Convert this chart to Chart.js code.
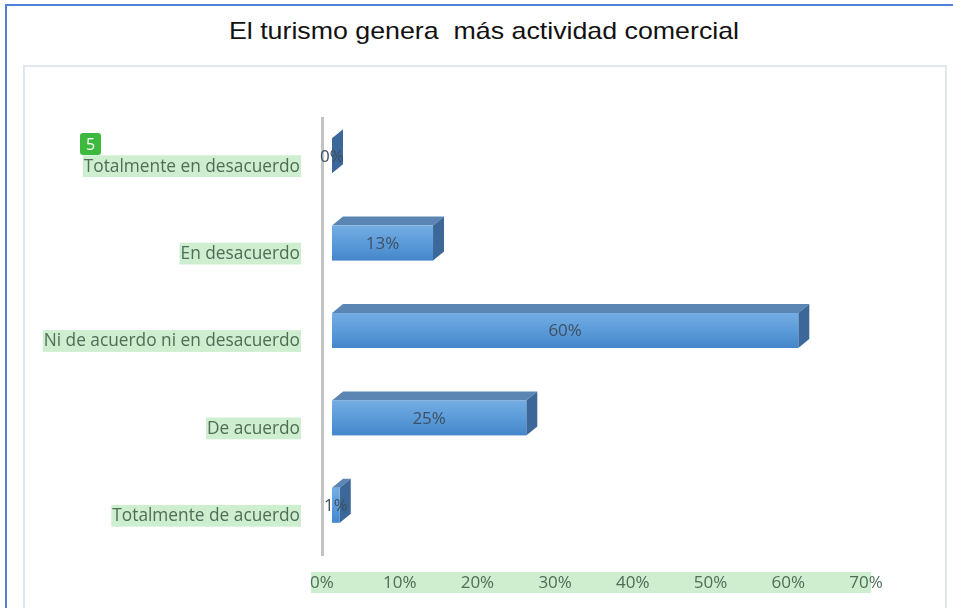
<!DOCTYPE html>
<html>
<head>
<meta charset="utf-8">
<script src="https://cdn.jsdelivr.net/npm/chart.js@4.4.0/dist/chart.umd.min.js"></script>
<style>
    html, body { margin: 0; padding: 0; background: #fff; }
    #wrap { position: relative; width: 953px; height: 608px; overflow: hidden; }
    .marco { position: absolute; left: 5px; top: 4px; width: 980px; height: 640px; border: 2px solid #4f82d8; box-sizing: border-box; }
    .area { position: absolute; left: 23px; top: 65px; width: 924px; height: 620px; border: 2px solid #e1e7ef; box-sizing: border-box; }
    .titulo { position: absolute; left: 0; top: 17px; width: 968px; text-align: center; font: 24px 'Liberation Sans', Arial, sans-serif; color: #111; white-space: pre; transform: scaleX(1.115); transform-origin: 484px 0; }
    .badge { position: absolute; left: 80px; top: 133px; width: 21px; height: 22px; background: #3dba3d; border-radius: 3px; color: #fff; font: 16px 'Open Sans', sans-serif; text-align: center; line-height: 22px; }
    canvas { position: absolute; left: 0; top: 0; }
</style>
</head>
<body>
<div id="wrap">
    <div class="marco"></div>
    <div class="area"></div>
    <div class="titulo">El turismo genera  más actividad comercial</div>
    <canvas id="grafico" width="953" height="608"></canvas>
    <div class="badge">5</div>
</div>
<script>
// datos
const categorias = ['Totalmente en desacuerdo', 'En desacuerdo', 'Ni de acuerdo ni en desacuerdo', 'De acuerdo', 'Totalmente de acuerdo'];
const porcentajes = [0, 13, 60, 25, 1];
const etiquetasDatos = ['0%', '13%', '60%', '25%', '1%'];
const ejeMin = 0;
const ejeMax = 70;
const ejePaso = 10;

// desplazamientos del efecto 3D
const DX = 10, DY = -6;      // cara frontal respecto a la barra de Chart.js
const PX = 11, PY = 9;       // profundidad

const resaltado = '#cdeecf';
const colorTexto = '#4d6e57';

// franja verde detras de las etiquetas del eje X
const franjaX = {
    id: 'franjaX',
    beforeDraw(chart) {
        const ctx = chart.ctx;
        const x = chart.scales.x;
        const x0 = x.getPixelForValue(ejeMin) - 11;
        const x1 = x.getPixelForValue(ejeMax) + 5;
        ctx.save();
        ctx.fillStyle = resaltado;
        ctx.fillRect(x0, 572, x1 - x0, 21);
        ctx.restore();
    }
};

// barras con caras superior y lateral
const barras3D = {
    id: 'barras3D',
    afterDatasetsDraw(chart) {
        const ctx = chart.ctx;
        const meta = chart.getDatasetMeta(0);
        ctx.save();
        meta.data.forEach((bar, i) => {
            const p = bar.getProps(['x', 'y', 'base', 'height'], true);
            const x0 = p.base + DX, x1 = p.x + DX;
            const top = p.y - p.height / 2 + DY, bot = p.y + p.height / 2 + DY;

            // cara superior
            if (x1 > x0) {
                ctx.fillStyle = '#5b86b3';
                ctx.beginPath();
                ctx.moveTo(x0, top);
                ctx.lineTo(x0 + PX, top - PY);
                ctx.lineTo(x1 + PX, top - PY);
                ctx.lineTo(x1, top);
                ctx.closePath();
                ctx.fill();
            }
            // cara lateral
            ctx.fillStyle = '#3b6898';
            ctx.beginPath();
            ctx.moveTo(x1, top);
            ctx.lineTo(x1 + PX, top - PY);
            ctx.lineTo(x1 + PX, bot - PY);
            ctx.lineTo(x1, bot);
            ctx.closePath();
            ctx.fill();
            // cara frontal
            if (x1 > x0) {
                const g = ctx.createLinearGradient(0, top, 0, bot);
                g.addColorStop(0, '#74ade3');
                g.addColorStop(0.5, '#5b9bd9');
                g.addColorStop(1, '#4486cb');
                ctx.fillStyle = g;
                ctx.fillRect(x0, top, x1 - x0, bot - top);
            }
            // etiqueta
            ctx.fillStyle = '#3f4f62';
            ctx.font = "17px 'Open Sans', sans-serif";
            ctx.textAlign = 'center';
            ctx.textBaseline = 'middle';
            ctx.fillText(etiquetasDatos[i], (x0 + x1) / 2, (top + bot) / 2 + 1);
        });
        ctx.restore();
    }
};

new Chart(document.getElementById('grafico'), {
    type: 'bar',
    data: {
        labels: categorias,
        datasets: [{
            data: porcentajes,
            backgroundColor: 'rgba(0,0,0,0)',
            borderWidth: 0,
            barThickness: 35
        }]
    },
    options: {
        indexAxis: 'y',
        responsive: false,
        animation: false,
        layout: { padding: { left: 0, top: 118, right: 87, bottom: 0 } },
        plugins: { legend: { display: false }, title: { display: false }, tooltip: { enabled: false } },
        scales: {
            x: {
                min: ejeMin,
                max: ejeMax,
                grid: { display: false, drawTicks: false },
                border: { display: false },
                ticks: {
                    stepSize: ejePaso,
                    padding: 18,
                    color: colorTexto,
                    font: { family: "'Open Sans', sans-serif", size: 17 },
                    callback: (v) => v + '%'
                },
                afterFit: (s) => { s.height = 53; }
            },
            y: {
                grid: { display: false, drawTicks: false },
                border: { display: true, color: '#c3c3c3', width: 3 },
                ticks: {
                    padding: 22,
                    labelOffset: 5,
                    color: colorTexto,
                    font: { family: "'Open Sans', sans-serif", size: 17.3 },
                    showLabelBackdrop: true,
                    backdropColor: resaltado,
                    backdropPadding: { top: 1, bottom: 0, left: 1, right: 1 }
                },
                afterFit: (s) => { s.width = 322; }
            }
        }
    },
    plugins: [franjaX, barras3D]
});
</script>
</body>
</html>
